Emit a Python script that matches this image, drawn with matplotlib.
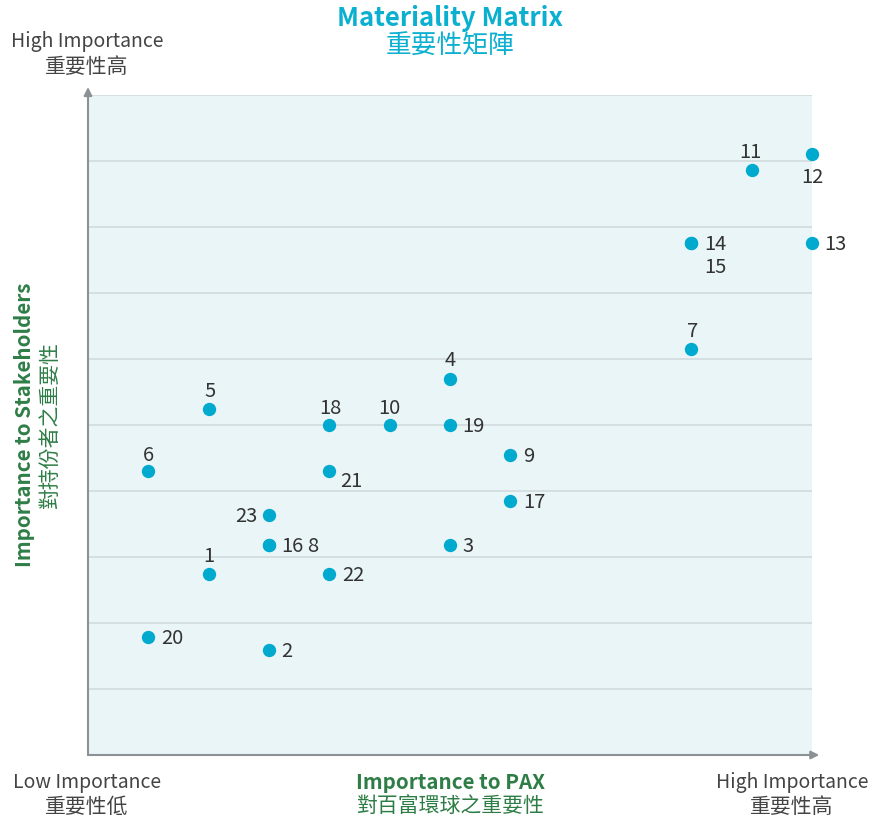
import matplotlib
matplotlib.use("Agg")
import matplotlib.pyplot as plt

plt.rcParams['font.family'] = ['Noto Sans CJK TC', 'DejaVu Sans']

# dati: (PAX, stakeholders) per ciascun tema
labels = ['1', '2', '3', '4', '5', '6', '7', '8', '9', '10', '11', '12',
          '13', '14', '15', '16', '17', '18', '19', '20', '21', '22', '23']
x_pax = [2, 3, 6, 6, 2, 1, 10, 3, 7, 5, 11, 12,
         12, 10, 10, 3, 7, 4, 6, 1, 4, 4, 3]
y_stake = [2.74, 1.59, 3.18, 5.70, 5.24, 4.30, 6.15, 3.18, 4.55, 5.0, 8.86, 9.11,
           7.76, 7.76, 7.76, 3.18, 3.85, 5.0, 5.0, 1.79, 4.30, 2.74, 3.64]

# posizione etichetta: offset in punti e allineamento
pos = {
    '1': (0, 13, 'center'), '4': (0, 13, 'center'), '5': (1, 13, 'center'),
    '6': (0, 11.5, 'center'), '7': (1, 13, 'center'), '10': (0, 12, 'center'),
    '11': (-1, 13, 'center'), '18': (1, 12, 'center'),
    '12': (0, -17, 'center'), '15': (17, -18, 'center'),
    '21': (8, -7.5, 'left'), '23': (-8, -1, 'right'),
    '8': (27.5, -1, 'left'),
}

DOT = '#00A9CE'
GREEN = '#2E7D46'
GRAY_TXT = '#444444'

fig = plt.figure(figsize=(8.69, 8.21), dpi=100)
ax = fig.add_axes([88 / 869, 66 / 821, 724 / 869, 660 / 821])
ax.set_facecolor('#EAF5F8')
ax.set_xlim(0, 12)
ax.set_ylim(0, 10)
for s in ax.spines.values():
    s.set_visible(False)
ax.set_xticks([])
ax.set_yticks([])

for yv in range(1, 11):
    ax.axhline(yv, color='#D3DCDF', lw=1.3, zorder=1)

# assi con freccia
arrow = dict(arrowstyle='-|>', color='#8C9196', lw=1.5, mutation_scale=12, shrinkA=0, shrinkB=0)
ax.annotate('', xy=(0, 1.012), xytext=(0, 0), xycoords='axes fraction', arrowprops=arrow, annotation_clip=False)
ax.annotate('', xy=(1.01, 0), xytext=(0, 0), xycoords='axes fraction', arrowprops=arrow, annotation_clip=False)

ax.scatter(x_pax, y_stake, s=92, color=DOT, zorder=3, clip_on=False, linewidths=0)

for lab, xv, yv in zip(labels, x_pax, y_stake):
    dx, dy, ha = pos.get(lab, (9, -1, 'left'))
    ax.annotate(lab, (xv, yv), xytext=(dx, dy), textcoords='offset points',
                ha=ha, va='center', fontsize=14.5, color='#333333', annotation_clip=False)

# titoli
fig.text(450 / 869, 1 - 18 / 821, 'Materiality Matrix', ha='center', va='center',
         fontsize=18.5, fontweight='bold', color='#0BAFCF')
fig.text(450 / 869, 1 - 47 / 821, '重要性矩陣', ha='center', va='center',
         fontsize=18.5, color='#0BAFCF')

fig.text(450 / 869, 1 - 782 / 821, 'Importance to PAX', ha='center', va='center',
         fontsize=14.8, fontweight='bold', color=GREEN)
fig.text(450 / 869, 1 - 806 / 821, '對百富環球之重要性', ha='center', va='center',
         fontsize=15, color=GREEN)

fig.text(25 / 869, 1 - 425 / 821, 'Importance to Stakeholders', ha='center', va='center',
         rotation=90, fontsize=14.8, fontweight='bold', color=GREEN)
fig.text(50 / 869, 1 - 425 / 821, '對持份者之重要性', ha='center', va='center',
         rotation=90, fontsize=15, color=GREEN)

corner = dict(ha='center', va='center', color=GRAY_TXT, fontweight='light')
fig.text(87 / 869, 1 - 42 / 821, 'High Importance', fontsize=14, **corner)
fig.text(87 / 869, 1 - 67 / 821, '重要性高', fontsize=15, **corner)
fig.text(87 / 869, 1 - 782 / 821, 'Low Importance', fontsize=14, **corner)
fig.text(87 / 869, 1 - 807 / 821, '重要性低', fontsize=15, **corner)
fig.text(792 / 869, 1 - 782 / 821, 'High Importance', fontsize=14, **corner)
fig.text(792 / 869, 1 - 807 / 821, '重要性高', fontsize=15, **corner)

fig.savefig('out.png', dpi=100)
